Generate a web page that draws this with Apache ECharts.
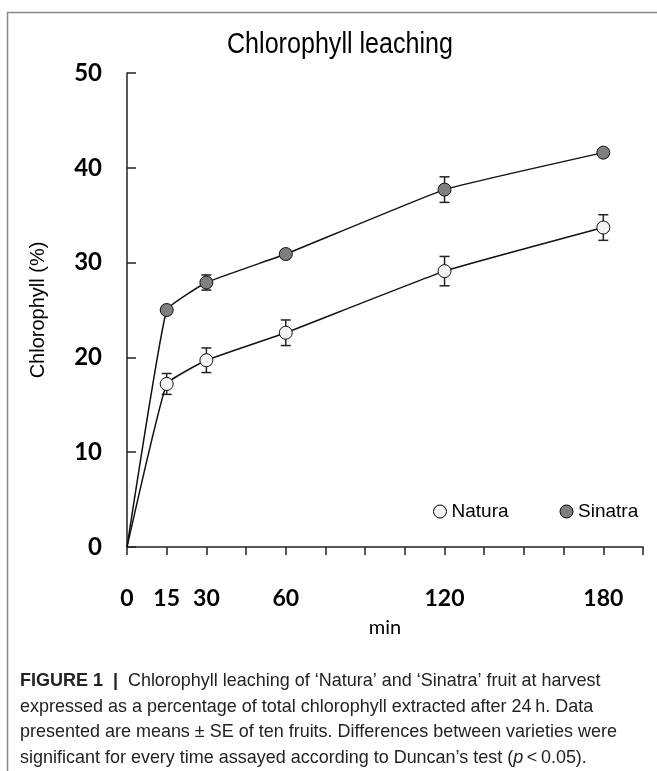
<!DOCTYPE html>
<html><head><meta charset="utf-8">
<script src="https://cdn.jsdelivr.net/npm/echarts@6/dist/echarts.min.js"></script>
<style>html,body{margin:0;padding:0;background:#fff}#c{width:657px;height:771px}</style>
</head><body><div id="c"></div>
<script>
// ---- data ----
const times = [0, 15, 30, 60, 120, 180];
const xTickLabels = [0, 15, 30, 60, 120, 180];
const yTicks = [0, 10, 20, 30, 40, 50];
const naturaMean = [0, 17.2, 19.7, 22.6, 29.1, 33.7];
const naturaSE = [0, 1.1, 1.3, 1.35, 1.55, 1.35];
const sinatraMean = [0, 25.0, 27.9, 30.9, 37.7, 41.6];
const sinatraSE = [0, 0.4, 0.8, 0.4, 1.35, 0.4];
const seriesNames = ['Natura', 'Sinatra'];
const titleText = 'Chlorophyll leaching';
const xName = 'min';
const yName = 'Chlorophyll (%)';
const captionLines = [
  'Chlorophyll leaching of \u2018Natura\u2019 and \u2018Sinatra\u2019 fruit at harvest',
  'expressed as a percentage of total chlorophyll extracted after 24\u2009h. Data',
  'presented are means \u00b1 SE of ten fruits. Differences between varieties were',
  'significant for every time assayed according to Duncan\u2019s test ('
];
const captionTail = '\u2009<\u20090.05).';
const captionHead = 'FIGURE 1';

// ---- chart ----
const chart = echarts.init(document.getElementById('c'));
const SANS = '"Liberation Sans", Arial, sans-serif';
const NUM = 'Lato, "Open Sans", sans-serif';

function lineData(means) {
  return times.map((t, i) => ({ value: [t, means[i]], symbolSize: i === 0 ? 0 : 13 }));
}
function errData(means, se) {
  return times.map((t, i) => [t, means[i], se[i]]);
}
function errRender(params, api) {
  const x = api.value(0), m = api.value(1), s = api.value(2);
  if (!s) return;
  const top = api.coord([x, m + s]);
  const bot = api.coord([x, m - s]);
  const w = 5;
  const st = { stroke: '#222', lineWidth: 1.5 };
  return { type: 'group', children: [
    { type: 'line', shape: { x1: top[0], y1: top[1], x2: bot[0], y2: bot[1] }, style: st },
    { type: 'line', shape: { x1: top[0] - w, y1: top[1], x2: top[0] + w, y2: top[1] }, style: st },
    { type: 'line', shape: { x1: bot[0] - w, y1: bot[1], x2: bot[0] + w, y2: bot[1] }, style: st }
  ]};
}

// caption / title horizontal condensing
const cv = document.createElement('canvas').getContext('2d');
cv.font = '19px "Liberation Sans"';
const capScale = 597 / cv.measureText(captionLines[2]).width;
cv.font = '30px "Liberation Sans"';
const titleScale = 226 / cv.measureText(titleText).width;

const capStyleBase = { fontFamily: SANS, fontSize: 19, fill: '#222' };
const captionGraphics = captionLines.map((ln, i) => ({
  type: 'text', x: 20, y: 681 + i * 25.6, scaleX: capScale,
  style: Object.assign({ text: ln, verticalAlign: 'middle' }, capStyleBase)
}));
captionGraphics[0].style.text = '{b|' + captionHead + '}  {bar||}  ' + captionLines[0];
captionGraphics[0].style.rich = {
  b: { fontFamily: SANS, fontSize: 19, fontWeight: 'bold', fill: '#222' },
  bar: { fontFamily: SANS, fontSize: 19, fontWeight: 'bold', fill: '#222' }
};
captionGraphics[3].style.text = captionLines[3] + '{i|p}' + captionTail;
captionGraphics[3].style.rich = { i: { fontFamily: SANS, fontSize: 19, fontStyle: 'italic', fill: '#222' } };

chart.setOption({
  animation: false,
  backgroundColor: '#fff',
  legend: {
    data: seriesNames.map(n => ({ name: n, icon: 'circle' })),
    left: 428, top: 497, itemWidth: 13, itemHeight: 13, itemGap: 51,
    itemStyle: { borderColor: '#000', borderWidth: 1 },
    textStyle: { fontFamily: SANS, fontSize: 19, color: '#000' }
  },
  grid: { left: 127, right: 14, top: 73, bottom: 224, containLabel: false, outerBoundsMode: 'none' },
  xAxis: {
    type: 'value', min: 0, max: 195, interval: 15,
    name: xName, nameLocation: 'middle', nameGap: 71,
    nameTextStyle: { fontFamily: NUM, fontSize: 20, color: '#000' },
    axisLine: { lineStyle: { color: '#222', width: 1.5 } },
    axisTick: { show: true, length: 8, inside: false, lineStyle: { color: '#222', width: 1.5 } },
    splitLine: { show: false },
    axisLabel: {
      margin: 40, fontFamily: NUM, fontWeight: 'bold', fontSize: 23, color: '#000',
      formatter: v => xTickLabels.indexOf(v) >= 0 ? String(v) : ''
    }
  },
  yAxis: {
    type: 'value', min: yTicks[0], max: yTicks[yTicks.length - 1], interval: 10,
    name: yName, nameLocation: 'middle', nameGap: 79,
    nameTextStyle: { fontFamily: SANS, fontSize: 20, color: '#000' },
    axisLine: { show: true, lineStyle: { color: '#222', width: 1.5 } },
    axisTick: { show: true, inside: true, length: 9, lineStyle: { color: '#222', width: 1.5 } },
    splitLine: { show: false },
    axisLabel: { margin: 25, fontFamily: NUM, fontWeight: 'bold', fontSize: 24, color: '#000' }
  },
  series: [
    { name: 'Natura-err', type: 'custom', renderItem: errRender, data: errData(naturaMean, naturaSE), z: 1, silent: true },
    { name: 'Sinatra-err', type: 'custom', renderItem: errRender, data: errData(sinatraMean, sinatraSE), z: 1, silent: true },
    { name: seriesNames[0], type: 'line', data: lineData(naturaMean), smooth: 0.1, symbol: 'circle', z: 3,
      lineStyle: { color: '#111', width: 1.5 },
      itemStyle: { color: '#f2f2f2', borderColor: '#111', borderWidth: 1 } },
    { name: seriesNames[1], type: 'line', data: lineData(sinatraMean), smooth: 0.1, symbol: 'circle', z: 3,
      lineStyle: { color: '#111', width: 1.5 },
      itemStyle: { color: '#7f7f7f', borderColor: '#111', borderWidth: 1 } }
  ],
  graphic: [
    { type: 'polyline', shape: { points: [[7.5, 771], [7.5, 12.5], [657, 12.5]] }, style: { stroke: '#888', lineWidth: 1.5, fill: null } },
    { type: 'text', x: 340, y: 45, scaleX: titleScale,
      style: { text: titleText, fontFamily: SANS, fontSize: 30, fill: '#000', align: 'center', verticalAlign: 'middle' } }
  ].concat(captionGraphics)
});
</script></body></html>
